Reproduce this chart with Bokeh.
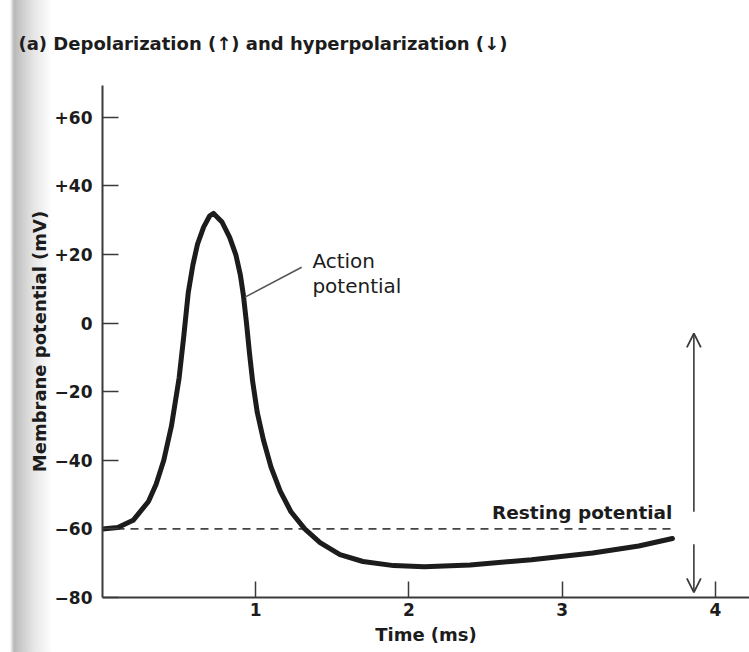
from bokeh.plotting import figure
from bokeh.models import Arrow, OpenHead, FixedTicker, Range1d
from bokeh.core.properties import value
from bokeh.embed import file_html
from bokeh.resources import INLINE

# ---- data ----
time_ms = [0.0, 0.1, 0.2, 0.3, 0.35, 0.40, 0.45, 0.50, 0.53, 0.56, 0.59, 0.62,
           0.66, 0.70, 0.725, 0.78, 0.83, 0.87, 0.90, 0.92, 0.94, 0.96, 0.98,
           1.01, 1.05, 1.10, 1.16, 1.23, 1.32, 1.42, 1.55, 1.70, 1.90, 2.10,
           2.40, 2.80, 3.20, 3.50, 3.72]
membrane_mv = [-60, -59.6, -57.5, -52, -47, -40, -30, -16, -4, 9, 17, 23,
               28, 31.3, 32, 29.5, 25, 20, 14, 8, 0, -9, -17,
               -26, -34, -42, -49, -55, -60, -64, -67.5, -69.5, -70.7, -71,
               -70.5, -69, -67, -65, -62.8]

resting_t = [0.0, 3.72]
resting_v = [-60, -60]

x_ticks = [1, 2, 3, 4]
y_ticks = [-80, -60, -40, -20, 0, 20, 40, 60]
y_tick_labels = ["\u221280", "\u221260", "\u221240", "\u221220", "0", "+20", "+40", "+60"]

leader_t = [0.93, 1.30]
leader_v = [7.6, 16.3]

arrow_t = 3.86
arrow_up = (-55, -3)
arrow_down = (-64.5, -78.5)

title_text = "(a) Depolarization (\u2191) and hyperpolarization (\u2193)"
FONT = "DejaVu Sans"
INK = "#1c1c1c"
AX = "#3a3a3a"

p = figure(width=749, height=652, output_backend="svg", toolbar_location=None,
           x_range=Range1d(0, 4.223), y_range=Range1d(-80, 69.3),
           min_border_left=102, min_border_right=0, min_border_top=85, min_border_bottom=55)
p.outline_line_color = None
p.xgrid.visible = False
p.ygrid.visible = False
p.background_fill_color = None
p.border_fill_color = None
p.styles = {"background-image": "linear-gradient(to right, #ffffff 0px, #ffffff 10px, #b8b8b8 14px, #cdcdcd 22px, #e6e6e6 34px, #ffffff 52px)"}

p.title.text = title_text
p.title.align = "left"
p.title.vertical_align = "top"
p.title.offset = -84
p.title.standoff = 60
p.title.text_font = FONT
p.title.text_font_style = "bold"
p.title.text_font_size = "18px"
p.title.text_color = INK

for ax in (p.xaxis[0], p.yaxis[0]):
    ax.axis_line_width = 2
    ax.axis_line_color = AX
    ax.major_tick_in = 16
    ax.major_tick_out = 0
    ax.major_tick_line_width = 1.5
    ax.major_tick_line_color = AX
    ax.minor_tick_line_color = None
    ax.major_label_text_font = FONT
    ax.major_label_text_font_style = "bold"
    ax.major_label_text_font_size = "17px"
    ax.major_label_text_color = INK
    ax.axis_label_text_font = FONT
    ax.axis_label_text_font_style = "bold"
    ax.axis_label_text_font_size = "18px"
    ax.axis_label_text_color = INK

p.xaxis.ticker = FixedTicker(ticks=x_ticks)
p.yaxis.ticker = FixedTicker(ticks=y_ticks)
p.yaxis.major_label_overrides = {t: s for t, s in zip(y_ticks, y_tick_labels)}
p.xaxis.axis_label = "Time (ms)"
p.yaxis.axis_label = "Membrane potential (mV)"
p.xaxis.major_label_standoff = 5
p.xaxis.axis_label_standoff = 5
p.yaxis.major_label_standoff = 10
p.yaxis.axis_label_standoff = 2

# resting potential dashed line
p.line(resting_t, resting_v, line_color="#444444", line_width=1.6, line_dash="8 6")

# action potential curve
p.line(time_ms, membrane_mv, line_color=INK, line_width=5, line_join="round", line_cap="round")

# leader line
p.line(leader_t, leader_v, line_color="#555555", line_width=1.5)

# labels
p.text(x=[1.37, 1.37], y=[18.2, 10.7], text=["Action", "potential"],
       text_font=value(FONT), text_font_size="20px", text_color=INK,
       text_baseline="alphabetic", text_align="left")
p.text(x=[3.72], y=[-55.1], text=["Resting potential"],
       text_font=value(FONT), text_font_style="bold", text_font_size="18.5px", text_color=INK,
       text_baseline="alphabetic", text_align="right")

# double arrow (broken in the middle)
p.add_layout(Arrow(end=OpenHead(size=14, line_width=1.8, line_color=AX),
                   x_start=arrow_t, y_start=arrow_up[0], x_end=arrow_t, y_end=arrow_up[1],
                   line_width=1.6, line_color=AX))
p.add_layout(Arrow(end=OpenHead(size=14, line_width=1.8, line_color=AX),
                   x_start=arrow_t, y_start=arrow_down[0], x_end=arrow_t, y_end=arrow_down[1],
                   line_width=1.6, line_color=AX))

open("out.html", "w").write(file_html(p, INLINE))
